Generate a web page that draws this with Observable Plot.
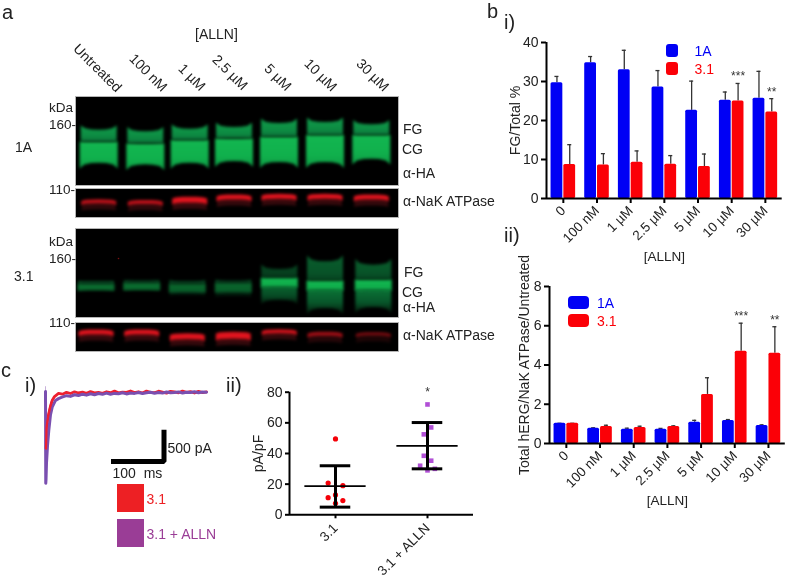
<!DOCTYPE html>
<html><head><meta charset="utf-8">
<script src="https://cdn.jsdelivr.net/npm/d3@7"></script>
<script src="https://cdn.jsdelivr.net/npm/@observablehq/plot@0.6"></script>
<style>
html,body{margin:0;padding:0;background:#fff}
#stage{position:relative;width:787px;height:578px;overflow:hidden;font-family:"Liberation Sans",Arial,sans-serif;color:#222;filter:blur(.3px)}
#stage svg{position:absolute;overflow:visible}
.t{position:absolute;white-space:pre;line-height:1;transform:translateY(-50%)}
.r{position:absolute;white-space:pre;line-height:1;transform-origin:0 50%;transform:rotate(45deg)}
.sw{position:absolute}
.gel g[aria-label="area"]{filter:blur(1.5px)}
.gel g[aria-label="dot"]{filter:blur(.5px)}
</style></head><body><div id="stage"></div>
<script>
// ---------- panel b data ----------
const groups = ["0","100 nM","1 µM","2.5 µM","5 µM","10 µM","30 µM"];
const fg1A    = [29.7,34.8,33.0,28.6,22.6,25.2,25.7];
const fg1AErr = [31.3,36.4,38.0,32.8,30.1,27.3,32.6];
const fg31    = [8.7,8.6,9.3,8.8,8.2,25.0,22.2];
const fg31Err = [13.8,11.5,12.2,11.0,11.4,29.5,25.6];
const fgStars = ["","","","","","***","**"];
const tot1A    = [1.03,0.78,0.73,0.72,1.08,1.17,0.92];
const tot1AErr = [1.03,0.80,0.78,0.77,1.18,1.22,0.95];
const tot31    = [1.03,0.86,0.82,0.86,2.50,4.70,4.60];
const tot31Err = [1.03,0.93,0.88,0.90,3.35,6.13,5.95];
const totStars = ["","","","","","***","**"];
// ---------- panel c ii data ----------
const cur31 = [49.5,20.7,19.0,13.0,11.2,9.3,7.5];
const cur31Off = [0,-0.08,0.08,0,-0.08,0.08,0];
const curAl = [72,57,52.5,38.5,35.3,32,30,29];
const curAlOff = [0,0.04,-0.04,-0.04,0.04,-0.08,0.08,0];
const curMean = [18.7,45];
const curHi = [32,60.2];
const curLo = [5,30];
const curLabels = ["3.1","3.1 + ALLN"];
// ---------- panel c i data ----------
const tRed = [1,1.5,2,4,6.6,10,13.4,18,26,34,42,50,58,66,74,82,90,98,106,114,122,130,138,146,154,162,170,178,186,194,202,210,218,226,234,242,250,258,266,274,282,290,298,306,314,322];
const iRed = [-840,-700,-530,-420,-324,-215,-132,-75,-29,-40,-12,-30,-5,-22,-10,-28,-2,-20,-12,-26,-4,-18,5,-20,-8,-14,8,-16,-4,-22,6,-12,-18,4,-10,-24,2,-6,-20,6,-14,-2,-22,2,-16,-6];
const tPur = [0,0.5,1,2,4,6.6,10,13.4,20,26,33,42,50,58,66,74,82,90,98,106,114,122,130,138,146,154,162,170,178,186,194,202,210,218,226,234,242,250,258,266,274,282,290,298,306,314,322];
const iPur = [0,-1350,-1300,-1050,-800,-573,-340,-230,-132,-105,-84,-62,-72,-48,-60,-40,-54,-34,-48,-30,-42,-24,-40,-28,-34,-18,-36,-22,-28,-14,-30,-20,-12,-26,-16,-24,-8,-20,-14,-6,-22,-10,-16,-4,-18,-8,-10];
const spike = [70,-1350];
const barMs = [131,237,237];
const barPA = [-1029,-1029,-563];
// ---------- gel data (lane centres, band edges read from the blots) ----------
const pos1A = [22.7,69.3,113.7,158,203,249,295.3];
const top1A = [32.7,34.3,31.7,30,26,25,27.3];
const div1A = [45,46.7,43.3,41.7,40,38.3,38.3];
const bot1A = [65.7,67.3,65.7,64,65,65,61.7];
const pos31 = [20,65.7,111.3,157.3,203.3,249,297.3];
const top31 = [52.3,51.7,52.3,51.7,40,32.3,35.7];
const div31 = [55,54,55,54,49,51.7,50.7];
const bot31 = [61.3,61,63,63,58,61,61];
const tail31 = [62,62,66,67,70.7,79,78];
const flare31 = [0.3,0.3,1,1,4.5,6,6];
const upOp31 = [.6,.6,.55,.55,.45,.6,.6];
const coreOp31 = [.6,.6,.55,.55,1,1,1];
const tailOp31 = [.2,.2,.25,.25,.65,.75,.75];
const nak1A = [12.3,13,10.7,8,7.3,7.3,8];
const nakW1A = [4,4,6,5,5,5,5];
const nakOp1A = [.85,.85,1,1,1,1,1];
const nak31 = [9,9,13.3,12.3,8.3,10.7,10.7];
const nakW31 = [5,5,6,7,4,4,3];
const nakOp31 = [1,1,1,1,.95,.7,.55];
const laneU = [-1,-.92,-.75,-.4,0,.4,.75,.92,1];
const laneLift = [1,.7,.3,.06,0,.06,.3,.7,1];
const heads = [["Untreated",76,46],["100 nM",132,56],["1 µM",181,66],["2.5 µM",215,57],["5 µM",267,66],["10 µM",307,61],["30 µM",359,61]];

const stage = document.getElementById("stage");
const FONT = '"Liberation Sans",Arial,sans-serif';
function put(svg,l,t,cls){svg.style.left=l+"px";svg.style.top=t+"px";if(cls)svg.classList.add(cls);stage.appendChild(svg);return svg;}
function label(s,x,y,size=14,color="#222"){const d=document.createElement("div");d.className="t";d.textContent=s;d.style.cssText=`left:${x}px;top:${y}px;font-size:${size}px;color:${color}`;stage.appendChild(d);}
function swatch(x,y,w,h,c,r=0){const d=document.createElement("div");d.className="sw";d.style.cssText=`left:${x}px;top:${y}px;width:${w}px;height:${h}px;background:${c};border-radius:${r}px`;stage.appendChild(d);}

// ---------- gels ----------
function shape(x,hw,top,bot,ft,fb,op){return laneU.map((u,k)=>({x:x+u*hw,y1:top-ft*laneLift[k],y2:bot+fb*laneLift[k],op}));}
function groupRows(list){return list.flatMap((rows,i)=>rows.map(r=>({...r,lane:i})));}
function gel(h,domainH,marks,defs){
  const svg=Plot.plot({width:322,height:h,margin:0,axis:null,
    x:{domain:[0,322],range:[0,322]},y:{domain:[0,domainH],range:[0,h]},
    opacity:{range:[0,1],domain:[0,1]},
    style:{background:"#000"},marks});
  svg.style.outline="1px solid #b5b5b5";
  if(defs) d3.select(svg).insert("defs",":first-child").html(defs);
  return svg;
}
const gradDefs=`
<linearGradient id="gU" x1="0" y1="0" x2="0" y2="1"><stop offset="0" stop-color="#0f9c4a"/><stop offset=".7" stop-color="#0d8a42"/><stop offset="1" stop-color="#0a6e36"/></linearGradient>
<linearGradient id="gC" x1="0" y1="0" x2="0" y2="1"><stop offset="0" stop-color="#12b650"/><stop offset=".6" stop-color="#10b04c"/><stop offset="1" stop-color="#0d9a44"/></linearGradient>
<linearGradient id="gT" x1="0" y1="0" x2="0" y2="1"><stop offset="0" stop-color="#0e9a48"/><stop offset=".55" stop-color="#0a7238"/><stop offset="1" stop-color="#04240f"/></linearGradient>`;
function area(rows,fill){return Plot.area(rows,{x1:"x",y1:"y1",y2:"y2",z:"lane",fill,fillOpacity:"op",curve:"linear"});}

put(gel(88,88,[
  area(groupRows(pos1A.map((x,i)=>shape(x,18,top1A[i],div1A[i]-0.6,4.5,0,1))),"url(#gU)"),
  area(groupRows(pos1A.map((x,i)=>shape(x,19,div1A[i],bot1A[i],0.3,6,1))),"url(#gC)")
],gradDefs),76,97,"gel");

put(gel(88,88,[
  area(groupRows(pos31.map((x,i)=>shape(x,18,top31[i],div31[i]-0.6,flare31[i],0,upOp31[i]))),"url(#gU)"),
  area(groupRows(pos31.map((x,i)=>shape(x,18,bot31[i]-1,tail31[i],0,flare31[i],tailOp31[i]))),"url(#gT)"),
  area(groupRows(pos31.map((x,i)=>shape(x,18.5,div31[i],bot31[i],0.2,0.5,coreOp31[i]))),"url(#gC)"),
  Plot.dot([{x:42,y:29}],{x:"x",y:"y",r:0.8,fill:"#7a1010"})
]),76,229);

function nak(pos,c,w,op){return gel(28,28,[
  area(groupRows(pos.map((x,i)=>shape(x,17,c[i]+w[i]/2-1,c[i]+w[i]/2+6,-1.5,1.5,0.28*op[i]))),"#c0202a"),
  area(groupRows(pos.map((x,i)=>shape(x,17.5,c[i]-w[i]/2,c[i]+w[i]/2,-1.8,1.8,op[i]))),"#e0141e")
]);}
put(nak(pos1A,nak1A,nakW1A,nakOp1A),76,189,"gel");
put(nak(pos31,nak31,nakW31,nakOp31),76,322.5,"gel");
stage.querySelectorAll("svg").forEach(s=>s.classList.add("gel"));

// ---------- bar charts ----------
function bars(a,aErr,b,bErr,stars,opts){
  const rowsA=a.map((v,i)=>({i,v,e:aErr[i],c:i-0.19}));
  const rowsB=b.map((v,i)=>({i,v,e:bErr[i],c:i+0.19}));
  const idx=groups.map((_,i)=>i);
  return Plot.plot({width:opts.width,height:opts.height,
    marginLeft:opts.ml,marginRight:opts.mr,marginTop:opts.mt,marginBottom:opts.mb,
    x:{domain:[-0.5,6.5]},y:{domain:[0,opts.max]},
    style:{background:"transparent",fontFamily:FONT,fontSize:"14px",color:"#222",overflow:"visible"},
    marks:[
      Plot.ruleX(rowsA,{x:"c",y1:"v",y2:"e",stroke:"#333",strokeWidth:1.3}),
      Plot.ruleX(rowsB,{x:"c",y1:"v",y2:"e",stroke:"#333",strokeWidth:1.3}),
      Plot.ruleY(rowsA,{x1:d=>d.c-0.06,x2:d=>d.c+0.06,y:"e",stroke:"#333",strokeWidth:1.3}),
      Plot.ruleY(rowsB,{x1:d=>d.c-0.06,x2:d=>d.c+0.06,y:"e",stroke:"#333",strokeWidth:1.3}),
      Plot.rectY(rowsA,{x1:d=>d.c-0.175,x2:d=>d.c+0.175,y:"v",fill:"#0000f5",rx:1.5}),
      Plot.rectY(rowsB,{x1:d=>d.c-0.175,x2:d=>d.c+0.175,y:"v",fill:"#fb0007",rx:1.5}),
      Plot.text(rowsB.filter(d=>stars[d.i]),{x:"c",y:"e",text:d=>stars[d.i],dy:-7,fontSize:12,fill:"#333"}),
      Plot.ruleX([-0.5],{y1:0,y2:opts.max,stroke:"#000",strokeWidth:2}),
      Plot.ruleY([0],{stroke:"#000",strokeWidth:2}),
      Plot.axisY({ticks:opts.ticks,tickSize:5,tickPadding:3,strokeWidth:2,stroke:"#000",fill:"#222",
        label:opts.ylabel,labelAnchor:"center",labelArrow:"none",labelOffset:opts.lo,fontSize:14}),
      Plot.axisX({ticks:idx,tickFormat:i=>groups[i],tickRotate:-45,tickSize:5,tickPadding:5,strokeWidth:2,stroke:"#000",fill:"#222",
        label:"[ALLN]",labelAnchor:"center",labelArrow:"none",labelOffset:opts.xo,fontSize:13.5})
    ]});
}
put(bars(fg1A,fg1AErr,fg31,fg31Err,fgStars,{width:287,height:240,ml:46,mr:5.3,mt:12,mb:72,max:40,ticks:[0,10,20,30,40],ylabel:"FG/Total %",lo:36,xo:62}),500,30);
put(bars(tot1A,tot1AErr,tot31,tot31Err,totStars,{width:287,height:240,ml:49,mr:2.2,mt:16,mb:67,max:8,ticks:[0,2,4,6,8],ylabel:"Total hERG/NaK ATPase/Untreated",lo:30,xo:61}),500,270);

// ---------- scatter c ii ----------
const d31=cur31.map((v,i)=>({x:cur31Off[i],v}));
const dAl=curAl.map((v,i)=>({x:1+curAlOff[i],v}));
const sum=curMean.map((m,i)=>({i,m,hi:curHi[i],lo:curLo[i]}));
put(Plot.plot({width:230,height:170,marginLeft:49,marginRight:-3,marginTop:11.7,marginBottom:35.7,
  x:{domain:[-0.5,1.5]},y:{domain:[0,80]},
  style:{background:"transparent",fontFamily:FONT,fontSize:"14px",color:"#222",overflow:"visible"},
  marks:[
    Plot.dot(d31,{x:"x",y:"v",r:2.6,fill:"#f40008"}),
    Plot.dot(dAl,{x:"x",y:"v",r:2.6,symbol:"square",fill:"#b14fd6"}),
    Plot.ruleX(sum,{x:"i",y1:"lo",y2:"hi",stroke:"#000",strokeWidth:3}),
    Plot.ruleY(sum,{x1:d=>d.i-0.166,x2:d=>d.i+0.166,y:"hi",stroke:"#000",strokeWidth:3}),
    Plot.ruleY(sum,{x1:d=>d.i-0.166,x2:d=>d.i+0.166,y:"lo",stroke:"#000",strokeWidth:3}),
    Plot.ruleY(sum,{x1:d=>d.i-0.333,x2:d=>d.i+0.333,y:"m",stroke:"#000",strokeWidth:1.8}),
    Plot.text([1],{x:d=>d,y:80,text:()=>"*",dy:0,fontSize:12,fill:"#333"}),
    Plot.ruleX([-0.5],{y1:0,y2:80,stroke:"#000",strokeWidth:2}),
    Plot.ruleY([0],{stroke:"#000",strokeWidth:2}),
    Plot.axisY({ticks:[0,20,40,60,80],tickSize:4,tickPadding:3,strokeWidth:2,stroke:"#000",fill:"#222",
      label:"pA/pF",labelAnchor:"center",labelArrow:"none",labelOffset:36,fontSize:14}),
    Plot.axisX({ticks:[0,1],tickFormat:i=>curLabels[i],tickRotate:-45,tickSize:4,tickPadding:7,strokeWidth:2,stroke:"#000",fill:"#222",label:null,fontSize:13.5})
  ]}),240,380);

// ---------- traces c i ----------
const red=tRed.map((t,i)=>({t,i:iRed[i]}));
const pur=tPur.map((t,i)=>({t,i:iPur[i]}));
const scaleBar=barMs.map((t,i)=>({t,i:barPA[i]}));
put(Plot.plot({width:190,height:115,margin:0,axis:null,
  x:{domain:[-30,350]},y:{domain:[-1456,235]},
  style:{background:"transparent",overflow:"visible"},
  marks:[
    Plot.ruleX([0],{y1:spike[0],y2:spike[1],stroke:"#c8b2da",strokeWidth:1}),
    Plot.line(red,{x:"t",y:"i",stroke:"#ee2030",strokeWidth:2.8,curve:"linear"}),
    Plot.line(pur,{x:"t",y:"i",stroke:"#7a4fb0",strokeWidth:3,curve:"linear"}),
    Plot.line(red.filter(d=>d.t<14),{x:"t",y:"i",stroke:"#ee2030",strokeWidth:2.2,curve:"linear"}),
    Plot.line(scaleBar,{x:"t",y:"i",stroke:"#000",strokeWidth:5,strokeLinejoin:"miter",strokeLinecap:"butt"})
  ]}),30,375);

// ---------- legends ----------
swatch(666,44,11.5,12.5,"#0000f5",3); swatch(666,62,11.5,12.5,"#fb0007",3);
swatch(568,296,20.5,12.5,"#0000f5",4); swatch(568,314,20.5,12.5,"#fb0007",4);
label("1A",694.5,50.5,14,"#0000f5"); label("3.1",694.5,68.5,14,"#fb0007");
label("1A",597,302.5,14,"#0000f5"); label("3.1",597,320.5,14,"#fb0007");
swatch(117,484.3,27.4,27.4,"#ed2024"); swatch(117,519.3,27.4,27.4,"#9a3d96");
label("3.1",146.5,499,14,"#ed2024"); label("3.1 + ALLN",146.5,534,14,"#9a3d96");
label("500 pA",167.5,447.5,14); label("100  ms",112.5,473,14);

// ---------- panel letters and blot labels ----------
label("a",2,12,20); label("b",487,11,20); label("c",1,370,20);
label("i)",504,22,20); label("ii)",504,235,20);
label("i)",25,385,20); label("ii)",226,385,20);
label("[ALLN]",195,34,14);
heads.forEach(([s,x,y])=>{const d=document.createElement("div");d.className="r";d.textContent=s;d.style.cssText=`left:${x}px;top:${y-7}px;font-size:14px`;stage.appendChild(d);});
label("kDa",49,107.5,13.5); label("160-",49,125,13.5); label("1A",15,147,14);
label("FG",403,128.5,14); label("CG",402,149,14); label("α-HA",403,173,14);
label("110-",49,190,13.5); label("α-NaK ATPase",403,200.5,14);
label("kDa",49,241.5,13.5); label("160-",49,258.5,13.5); label("3.1",14,276,14);
label("FG",404,272,14); label("CG",402,291.5,14); label("α-HA",403,306.5,14);
label("110-",49,323,13.5); label("α-NaK ATPase",403,334.5,14);
</script></body></html>
